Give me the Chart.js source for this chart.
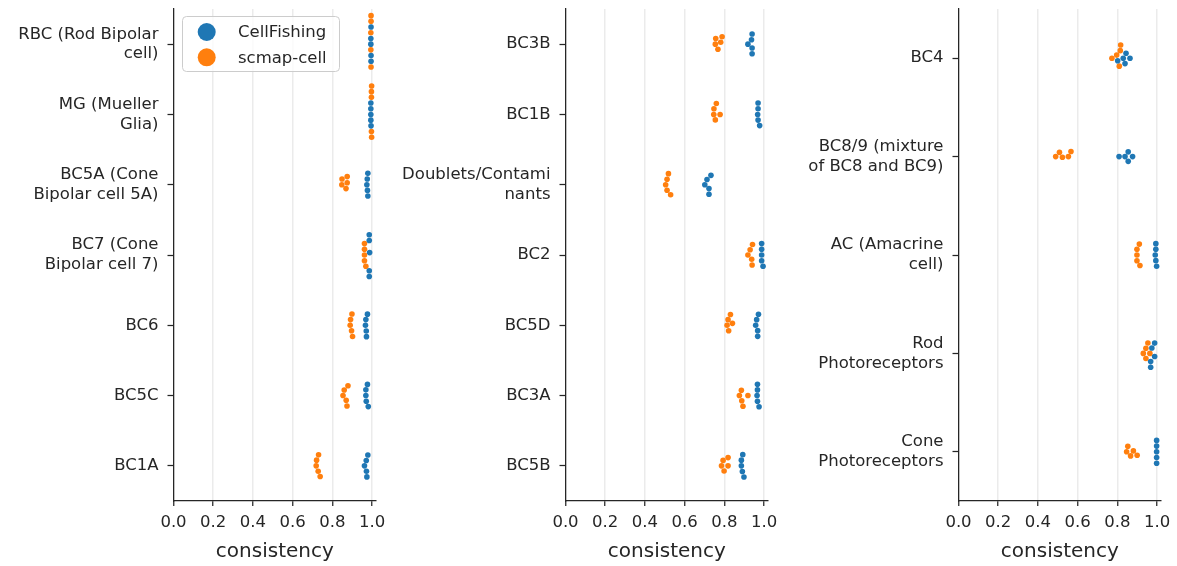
<!DOCTYPE html>
<html>
<head>
<meta charset="utf-8">
<script src="https://cdn.jsdelivr.net/npm/chart.js"></script>
<style>
  html, body { margin: 0; padding: 0; background: #fff; }
  #wrap { position: relative; width: 1177px; height: 566px; overflow: hidden; }
  #wrap canvas { position: absolute; top: 0; }
</style>
</head>
<body>
<div id="wrap">
  <canvas id="c1" width="392" height="566" style="left:0px"></canvas>
  <canvas id="c2" width="392" height="566" style="left:392px"></canvas>
  <canvas id="c3" width="392" height="566" style="left:785px"></canvas>
</div>
<script>
// ---- data (consistency per cell type, 5 runs per method) ----
const labels1 = [
    ['RBC (Rod Bipolar', 'cell)'], ['MG (Mueller', 'Glia)'], ['BC5A (Cone', 'Bipolar cell 5A)'],
    ['BC7 (Cone', 'Bipolar cell 7)'], 'BC6', 'BC5C', 'BC1A'
];
const fishing1 = [
    [0.994, 0.993, 0.994, 0.994, 0.993],
    [0.993, 0.993, 0.994, 0.993, 0.993],
    [0.978, 0.976, 0.973, 0.975, 0.978],
    [0.985, 0.985, 0.985, 0.985, 0.987],
    [0.976, 0.968, 0.966, 0.970, 0.971],
    [0.976, 0.970, 0.968, 0.968, 0.980],
    [0.978, 0.970, 0.961, 0.971, 0.973]
];
const scmap1 = [
    [0.994, 0.993, 0.994, 0.994, 0.993],
    [0.996, 0.997, 0.996, 0.997, 0.996],
    [0.848, 0.874, 0.847, 0.868, 0.874],
    [0.961, 0.961, 0.961, 0.961, 0.968],
    [0.898, 0.891, 0.889, 0.896, 0.901],
    [0.873, 0.859, 0.853, 0.878, 0.869],
    [0.730, 0.720, 0.718, 0.738, 0.728]
];

const labels2 = ['BC3B', 'BC1B', ['Doublets/Contami', 'nants'], 'BC2', 'BC5D', 'BC3A', 'BC5B'];
const fishing2 = [
    [0.939, 0.936, 0.918, 0.939, 0.939],
    [0.969, 0.969, 0.967, 0.969, 0.977],
    [0.712, 0.732, 0.701, 0.722, 0.722],
    [0.987, 0.987, 0.987, 0.987, 0.994],
    [0.971, 0.962, 0.957, 0.967, 0.967],
    [0.966, 0.966, 0.964, 0.966, 0.974],
    [0.892, 0.885, 0.885, 0.890, 0.898]
];
const scmap2 = [
    [0.756, 0.788, 0.754, 0.781, 0.767],
    [0.759, 0.747, 0.746, 0.778, 0.754],
    [0.518, 0.511, 0.504, 0.529, 0.511],
    [0.941, 0.929, 0.918, 0.937, 0.939],
    [0.830, 0.818, 0.813, 0.840, 0.821],
    [0.885, 0.875, 0.918, 0.887, 0.893],
    [0.793, 0.818, 0.785, 0.818, 0.798]
];

const labels3 = ['BC4', ['BC8/9 (mixture', 'of BC8 and BC9)'], ['AC (Amacrine', 'cell)'],
    ['Rod', 'Photoreceptors'], ['Cone', 'Photoreceptors']];
const fishing3 = [
    [0.801, 0.838, 0.829, 0.863, 0.843],
    [0.808, 0.838, 0.854, 0.854, 0.876],
    [0.993, 0.993, 0.990, 0.993, 0.997],
    [0.967, 0.987, 0.973, 0.967, 0.987],
    [0.997, 0.997, 0.997, 0.997, 0.997]
];
const scmap3 = [
    [0.816, 0.772, 0.796, 0.809, 0.814],
    [0.489, 0.508, 0.523, 0.553, 0.566],
    [0.910, 0.898, 0.898, 0.898, 0.913],
    [0.963, 0.943, 0.930, 0.953, 0.943],
    [0.846, 0.852, 0.866, 0.880, 0.899]
];

const xTicks = [0, 0.2, 0.4, 0.6, 0.8, 1.0];
const seriesNames = ['CellFishing', 'scmap-cell'];
const seriesColors = ['#1f77b4', '#ff7f0e'];

const FONT = 'DejaVu Sans';
const INK = '#262626';
const DOT_D = 5.7; // swarm spacing in px

// place points like a seaborn swarm: each point as close to the centre line as possible
function beeswarm(pts, d) {
    const placed = [];
    pts.forEach(p => {
        const near = placed.filter(q => Math.abs(q.px - p.px) < d);
        const cands = [0];
        near.forEach(q => {
            const dy = Math.sqrt(d * d - (q.px - p.px) ** 2);
            cands.push(q.off + dy, q.off - dy);
        });
        // closest to the centre first, upward side wins a tie
        cands.sort((a, b) => (Math.abs(a) - Math.abs(b)) || (a - b));
        p.off = cands.find(c => near.every(q => (q.px - p.px) ** 2 + (q.off - c) ** 2 >= d * d - 1e-6));
        placed.push(p);
    });
}

const legendBox = {
    id: 'legendBox',
    afterDraw(chart, args, opts) {
        if (!opts.show) return;
        const {ctx} = chart;
        ctx.save();
        ctx.beginPath();
        ctx.roundRect(182.5, 16.5, 157, 55, 4);
        ctx.fillStyle = 'rgba(255,255,255,0.8)';
        ctx.fill();
        ctx.strokeStyle = '#cccccc';
        ctx.lineWidth = 1;
        ctx.stroke();
        ctx.font = `16.5px "${FONT}"`;
        ctx.textBaseline = 'middle';
        seriesNames.forEach((name, i) => {
            const cy = 32 + i * 25.3;
            ctx.beginPath();
            ctx.arc(206.7, cy, 9, 0, Math.PI * 2);
            ctx.fillStyle = seriesColors[i];
            ctx.fill();
            ctx.fillStyle = INK;
            ctx.fillText(name, 238, cy + 1);
        });
        ctx.restore();
    }
};

function makePanel(id, labels, fishing, scmap, showLegend) {
    const chart = new Chart(document.getElementById(id), {
        type: 'scatter',
        data: {
            datasets: seriesNames.map((name, i) => ({
                label: name,
                data: [],
                backgroundColor: seriesColors[i],
                borderWidth: 0,
                pointRadius: 2.8,
                pointHoverRadius: 2.8
            }))
        },
        options: {
            responsive: false,
            animation: false,
            layout: { padding: { top: 9, right: 15.8, left: 0, bottom: 0 } },
            plugins: {
                legend: { display: false },
                tooltip: { enabled: false },
                legendBox: { show: showLegend }
            },
            scales: {
                x: {
                    type: 'linear',
                    min: 0,
                    max: 1.02,
                    afterBuildTicks: s => { s.ticks = xTicks.map(v => ({value: v})); },
                    afterFit: s => { s.height = 65; s.paddingLeft = 0; s.paddingRight = 0; },
                    ticks: {
                        callback: v => v.toFixed(1),
                        font: { family: FONT, size: 16.5 },
                        color: INK,
                        padding: 7,
                        maxRotation: 0
                    },
                    grid: { color: '#ebebeb', lineWidth: 1.5, tickLength: 5, tickColor: INK, tickWidth: 1.25 },
                    border: { color: INK, width: 1.25 },
                    title: {
                        display: true,
                        text: 'consistency',
                        font: { family: FONT, size: 20 },
                        color: INK,
                        padding: { top: 4, bottom: 2 }
                    }
                },
                y: {
                    type: 'linear',
                    min: -0.5,
                    max: labels.length - 0.5,
                    reverse: true,
                    afterBuildTicks: s => { s.ticks = labels.map((l, i) => ({value: i})); },
                    afterFit: s => { s.width = 173.5; s.paddingTop = 0; s.paddingBottom = 0; },
                    ticks: {
                        autoSkip: false,
                        callback: v => labels[v],
                        font: { family: FONT, size: 16.5 },
                        color: INK,
                        padding: 9
                    },
                    grid: { drawOnChartArea: false, tickLength: 6, tickColor: INK, tickWidth: 1.25 },
                    border: { color: INK, width: 1.25 }
                }
            }
        },
        plugins: [legendBox]
    });

    // swarm offsets are computed in pixels from the laid-out scales
    const xs = chart.scales.x, ys = chart.scales.y;
    const perCat = Math.abs(ys.getPixelForValue(1) - ys.getPixelForValue(0));
    labels.forEach((_, i) => {
        const pts = [];
        [fishing[i], scmap[i]].forEach((vals, ds) => {
            vals.forEach(v => pts.push({v, ds, px: xs.getPixelForValue(v)}));
        });
        pts.sort((a, b) => a.px - b.px);
        beeswarm(pts, DOT_D);
        pts.forEach(p => chart.data.datasets[p.ds].data.push({x: p.v, y: i + p.off / perCat}));
    });
    chart.update('none');
}

makePanel('c1', labels1, fishing1, scmap1, true);
makePanel('c2', labels2, fishing2, scmap2, false);
makePanel('c3', labels3, fishing3, scmap3, false);
</script>
</body>
</html>
